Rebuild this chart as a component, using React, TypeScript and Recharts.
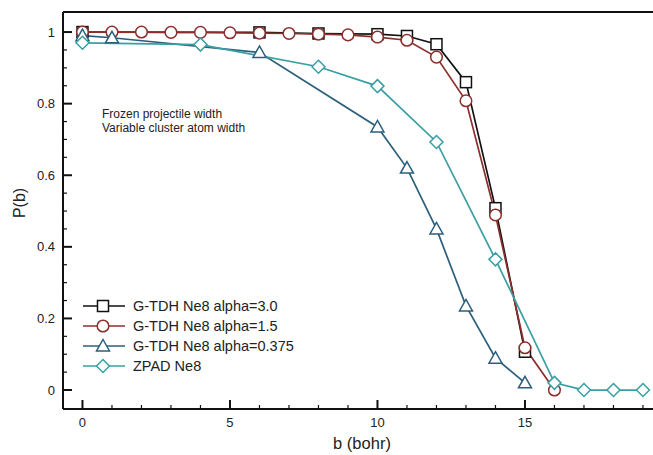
import React from "react";
import { LineChart, Line, XAxis, YAxis, ReferenceLine } from "recharts";

// impact parameter b (bohr) and probability P(b) for each run
const bAlpha30 = [0, 6, 8, 10, 11, 12, 13, 14, 15];
const pAlpha30 = [1.0, 0.999, 0.996, 0.994, 0.989, 0.966, 0.86, 0.508, 0.107];

const bAlpha15 = [0, 1, 2, 3, 4, 5, 6, 7, 8, 9, 10, 11, 12, 13, 14, 15, 16];
const pAlpha15 = [1.0, 1.0, 1.0, 0.999, 0.999, 0.998, 0.997, 0.996, 0.994, 0.992, 0.986, 0.977, 0.93, 0.808, 0.489, 0.118, 0.0];

const bAlpha0375 = [0, 1, 6, 10, 11, 12, 13, 14, 15];
const pAlpha0375 = [0.99, 0.984, 0.943, 0.735, 0.62, 0.45, 0.235, 0.089, 0.02];

const bZpad = [0, 4, 8, 10, 12, 14, 16, 17, 18, 19];
const pZpad = [0.97, 0.965, 0.903, 0.849, 0.693, 0.365, 0.02, 0.0, 0.0, 0.0];

const xTicks = [0, 1, 2, 3, 4, 5, 6, 7, 8, 9, 10, 11, 12, 13, 14, 15, 16, 17, 18, 19];
const xLabels = ["0", "5", "10", "15"];
const yTicks = [0, 0.05, 0.1, 0.15, 0.2, 0.25, 0.3, 0.35, 0.4, 0.45, 0.5, 0.55, 0.6, 0.65, 0.7, 0.75, 0.8, 0.85, 0.9, 0.95, 1];
const yLabels = ["0", "0.2", "0.4", "0.6", "0.8", "1"];

const X_DOMAIN: [number, number] = [-0.66, 19.34];
const Y_DOMAIN: [number, number] = [-0.053, 1.056];

const FONT = "'Liberation Sans', Arial, Helvetica, sans-serif";

const BLACK = "#111111";
const RED = "#8c2f2c";
const BLUE = "#2c5f7c";
const TEAL = "#3a9fa3";

const toRows = (b: number[], p: number[]) => b.map((v, i) => ({ b: v, p: p[i] }));

const series = [
  { name: "G-TDH Ne8 alpha=3.0", data: toRows(bAlpha30, pAlpha30), color: BLACK, shape: "square" },
  { name: "G-TDH Ne8 alpha=1.5", data: toRows(bAlpha15, pAlpha15), color: RED, shape: "circle" },
  { name: "G-TDH Ne8 alpha=0.375", data: toRows(bAlpha0375, pAlpha0375), color: BLUE, shape: "triangle" },
  { name: "ZPAD Ne8", data: toRows(bZpad, pZpad), color: TEAL, shape: "diamond" },
];

function Marker({ shape, cx, cy, color }: { shape: string; cx: number; cy: number; color: string }) {
  const common = { fill: "#fff", stroke: color, strokeWidth: 1.5 };
  if (shape === "square") return <rect x={cx - 5.5} y={cy - 5.5} width={11} height={11} {...common} />;
  if (shape === "circle") return <circle cx={cx} cy={cy} r={5.8} {...common} />;
  if (shape === "triangle")
    return <polygon points={`${cx},${cy - 6.5} ${cx + 6.5},${cy + 5} ${cx - 6.5},${cy + 5}`} {...common} />;
  return <polygon points={`${cx},${cy - 6.5} ${cx + 6.5},${cy} ${cx},${cy + 6.5} ${cx - 6.5},${cy}`} {...common} />;
}

function XTick(props: any) {
  const { x, y, payload } = props;
  const major = xLabels.includes(String(payload.value));
  return (
    <g>
      <line x1={x} x2={x} y1={y} y2={y - (major ? 9 : 4)} stroke={BLACK} strokeWidth={major ? 2 : 1.2} />
      {major && (
        <text x={x} y={y + 13} textAnchor="middle" dominantBaseline="central" fontSize={13} fontFamily={FONT} fill="#222">
          {payload.value}
        </text>
      )}
    </g>
  );
}

function YTick(props: any) {
  const { x, y, payload } = props;
  const label = String(Math.round(payload.value * 100) / 100);
  const major = yLabels.includes(label);
  return (
    <g>
      <line x1={x} x2={x + (major ? 9 : 4)} y1={y} y2={y} stroke={BLACK} strokeWidth={major ? 2 : 1.2} />
      {major && (
        <text x={x - 8} y={y} textAnchor="end" dominantBaseline="central" fontSize={13} fontFamily={FONT} fill="#222">
          {label}
        </text>
      )}
    </g>
  );
}

export default function App() {
  return (
    <div style={{ position: "absolute", left: 0, top: 0, width: 653, height: 455, background: "#fff", fontFamily: FONT }}>
      <LineChart width={653} height={455} margin={{ top: 12, right: 0, left: 0, bottom: 0 }}>
        <XAxis
          type="number"
          dataKey="b"
          domain={X_DOMAIN}
          ticks={xTicks}
          tick={<XTick />}
          tickSize={0}
          tickMargin={0}
          tickLine={false}
          axisLine={{ stroke: BLACK, strokeWidth: 2 }}
          height={46}
          allowDuplicatedCategory={false}
          interval={0}
        />
        <YAxis
          type="number"
          dataKey="p"
          domain={Y_DOMAIN}
          ticks={yTicks}
          tick={<YTick />}
          tickSize={0}
          tickMargin={0}
          tickLine={false}
          axisLine={{ stroke: BLACK, strokeWidth: 2 }}
          width={63}
          interval={0}
        />
        <ReferenceLine y={Y_DOMAIN[1]} stroke={BLACK} strokeWidth={2} />
        {series.map((s) => (
          <Line
            key={s.name}
            data={s.data}
            dataKey="p"
            name={s.name}
            type="linear"
            stroke={s.color}
            strokeWidth={1.7}
            isAnimationActive={false}
            dot={(p: any) => <Marker key={`${s.name}-${p.index}`} shape={s.shape} cx={p.cx} cy={p.cy} color={s.color} />}
            activeDot={false}
          />
        ))}
      </LineChart>

      <div style={{ position: "absolute", left: 102, top: 108, fontSize: 12, lineHeight: "13.5px", color: "#222" }}>
        <div>Frozen projectile width</div>
        <div>Variable cluster atom width</div>
      </div>

      <div style={{ position: "absolute", left: 83, top: 296 }}>
        {series.map((s) => (
          <div key={s.name} style={{ display: "flex", alignItems: "center", height: 20 }}>
            <svg width={42} height={20} style={{ display: "block" }}>
              <line x1={0} x2={42} y1={10} y2={10} stroke={s.color} strokeWidth={1.7} />
              <Marker shape={s.shape} cx={20} cy={10} color={s.color} />
            </svg>
            <span style={{ marginLeft: 8, fontSize: 14.5, color: "#222", whiteSpace: "nowrap" }}>{s.name}</span>
          </div>
        ))}
      </div>

      <div
        style={{ position: "absolute", left: 362, top: 443, transform: "translate(-50%, -50%)", fontSize: 16.5, color: "#222", whiteSpace: "nowrap" }}
      >
        b (bohr)
      </div>
      <div
        style={{ position: "absolute", left: 20, top: 203, transform: "translate(-50%, -50%) rotate(-90deg)", fontSize: 16, color: "#222", whiteSpace: "nowrap" }}
      >
        P(b)
      </div>
    </div>
  );
}
